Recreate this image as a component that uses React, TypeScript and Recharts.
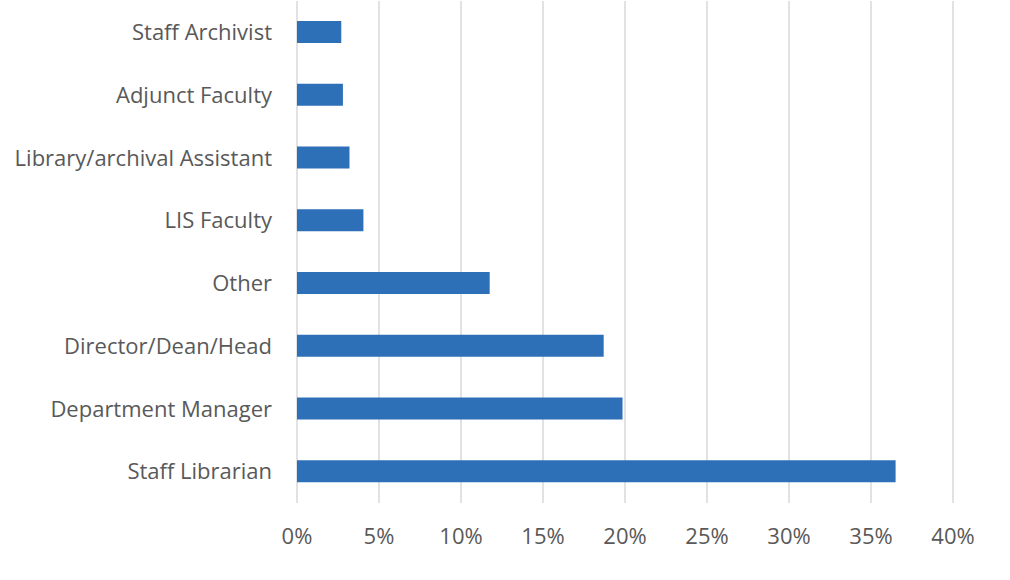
import React from 'react';
import { BarChart, Bar, XAxis, YAxis, CartesianGrid } from 'recharts';

const categories = [
  'Staff Archivist',
  'Adjunct Faculty',
  'Library/archival Assistant',
  'LIS Faculty',
  'Other',
  'Director/Dean/Head',
  'Department Manager',
  'Staff Librarian',
];
const shares = [0.027, 0.028, 0.032, 0.0405, 0.1175, 0.187, 0.1985, 0.365];
const xTicks = [0, 0.05, 0.1, 0.15, 0.2, 0.25, 0.3, 0.35, 0.4];

const data = categories.map((name, i) => ({ name, value: shares[i] }));

const FONT = '"Open Sans", sans-serif';
const TEXT = '#595959';

export default function App() {
  return (
    <div style={{ position: 'absolute', left: 0, top: 0, width: 1010, height: 580, background: '#fff' }}>
      <BarChart
        width={1010}
        height={580}
        data={data}
        layout="vertical"
        margin={{ top: 1, right: 57, bottom: 17, left: 0 }}
      >
        <CartesianGrid horizontal={false} vertical={true} stroke="#d9d9d9" strokeWidth={1.5} />
        <XAxis
          type="number"
          domain={[0, 0.4]}
          ticks={xTicks}
          tickFormatter={(v: number) => `${Math.round(v * 100)}%`}
          axisLine={false}
          tickLine={false}
          tickSize={0}
          tickMargin={25}
          height={60}
          tick={{ fill: TEXT, fontSize: 22, fontFamily: FONT }}
          interval={0}
        />
        <YAxis
          type="category"
          dataKey="name"
          width={297}
          axisLine={false}
          tickLine={false}
          tickSize={0}
          tickMargin={25}
          tick={{ fill: TEXT, fontSize: 22, fontFamily: FONT }}
          interval={0}
        />
        <Bar dataKey="value" fill="#2e70b8" barSize={22} isAnimationActive={false} />
      </BarChart>
    </div>
  );
}
